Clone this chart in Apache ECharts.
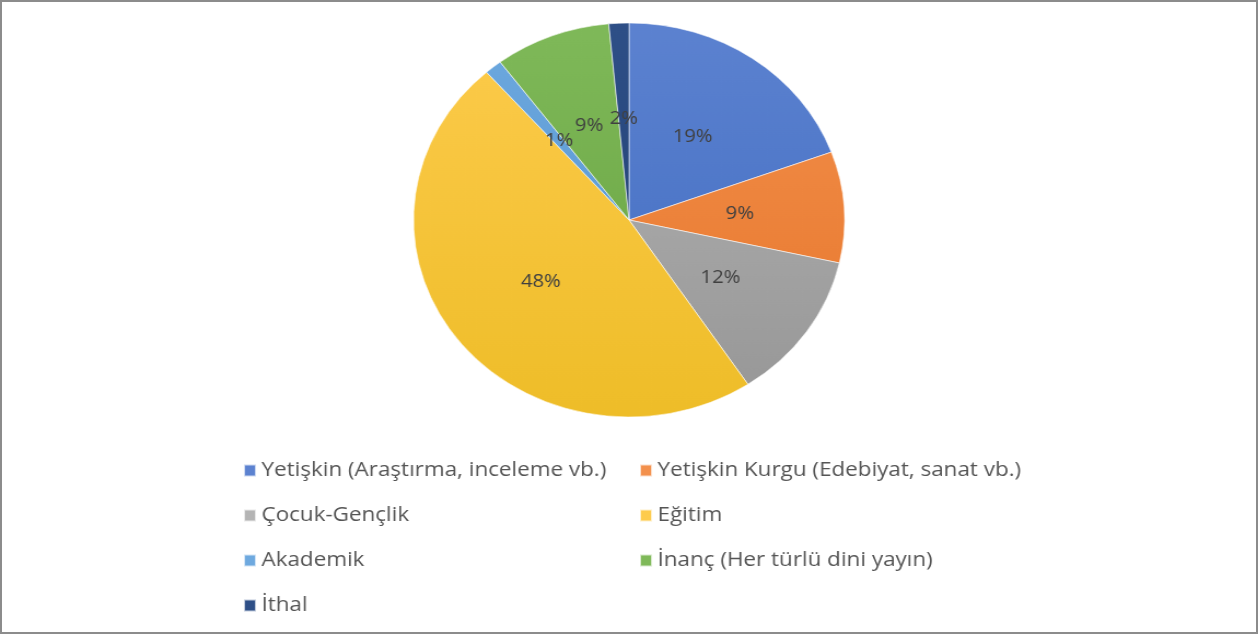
<!DOCTYPE html>
<html>
<head>
    <meta charset="utf-8">
    <script src="https://cdn.jsdelivr.net/npm/echarts@6/dist/echarts.min.js"></script>
    <style>
        html, body { margin: 0; padding: 0; background: #fff; }
        #frame {
            position: absolute; left: 0; top: 0;
            width: 1258px; height: 634px;
            box-sizing: border-box;
            border: 2px solid #8c8c8c;
            overflow: hidden;
        }
        /* the source picture is stretched sideways, so the chart is too */
        #main {
            position: absolute; left: -2px; top: -2px;
            width: 1150px; height: 634px;
            transform: scaleX(1.094);
            transform-origin: 0 0;
        }
    </style>
</head>
<body>
    <div id="frame"><div id="main"></div></div>
    <script type="text/javascript">
        var myChart = echarts.init(document.getElementById('main'));

        // kategoriler ve paylar (%)
        var categories = [
            'Yetişkin (Araştırma, inceleme vb.)',
            'Yetişkin Kurgu (Edebiyat, sanat vb.)',
            'Çocuk-Gençlik',
            'Eğitim',
            'Akademik',
            'İnanç (Her türlü dini yayın)',
            'İthal'
        ];
        var values = [19.4, 9.1, 12.2, 47.8, 1.3, 8.7, 1.5];
        var colorsTop = ['#5c82d0', '#f3904c', '#b4b4b4', '#fdcb4c', '#6ea9df', '#7fb959', '#2e4f87'];
        var colorsBottom = ['#3f6bc0', '#e6752a', '#969696', '#eebd28', '#4f90cd', '#66a13f', '#213f70'];

        var leftLegend = [categories[0], categories[2], categories[4], categories[6]];
        var rightLegend = [categories[1], categories[3], categories[5]];

        var data = categories.map(function (name, i) {
            return {
                name: name,
                value: values[i],
                itemStyle: {
                    color: {
                        type: 'linear', x: 0, y: 23, x2: 0, y2: 418, global: true,
                        colorStops: [
                            { offset: 0, color: colorsTop[i] },
                            { offset: 1, color: colorsBottom[i] }
                        ]
                    }
                }
            };
        });

        var legendBase = {
            orient: 'vertical',
            top: 460,
            padding: 0,
            icon: 'rect',
            itemWidth: 11,
            itemHeight: 12,
            itemGap: 24,
            selectedMode: false,
            textStyle: {
                color: '#555555',
                fontFamily: 'Open Sans',
                fontSize: 20.5,
                lineHeight: 21
            }
        };

        var option = {
            animation: false,
            legend: [
                Object.assign({}, legendBase, { left: 222, data: leftLegend }),
                Object.assign({}, legendBase, { left: 584, data: rightLegend })
            ],
            series: [
                {
                    type: 'pie',
                    center: [575, 220],
                    radius: 197,
                    startAngle: 90,
                    clockwise: true,
                    avoidLabelOverlap: false,
                    itemStyle: {
                        borderColor: 'rgba(255,255,255,0.7)',
                        borderWidth: 0.8
                    },
                    label: {
                        show: true,
                        position: 'inside',
                        color: '#404040',
                        fontFamily: 'Open Sans',
                        fontSize: 18.5,
                        formatter: function (p) {
                            return Math.round(p.value) + '%';
                        }
                    },
                    labelLine: { show: false },
                    emphasis: { disabled: true },
                    data: data
                }
            ]
        };

        myChart.setOption(option);
    </script>
</body>
</html>
